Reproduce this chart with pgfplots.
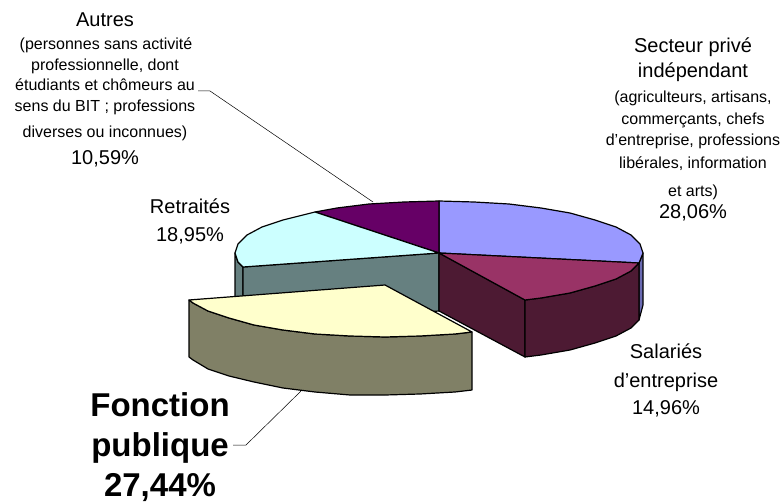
\documentclass[border=0pt]{standalone}
\usepackage{fontspec}
\setmainfont{Liberation Sans}
\usepackage{pgfplots}
\pgfplotsset{compat=1.18}

\definecolor{cbleu}{HTML}{9999FF}
\definecolor{cbleus}{HTML}{6B6BB3}
\definecolor{crouge}{HTML}{993366}
\definecolor{crouges}{HTML}{4D1A33}
\definecolor{cviolet}{HTML}{660066}
\definecolor{ccyan}{HTML}{CCFFFF}
\definecolor{ccyans}{HTML}{668080}
\definecolor{cjaune}{HTML}{FFFFCC}
\definecolor{cjaunes}{HTML}{808066}

% one line of text: x, baseline y, size, text
\newcommand{\lab}[4]{\node[anchor=base,inner sep=0pt,font=\fontsize{#3}{#3}\selectfont] at (axis cs:#1,#2) {#4};}

\begin{document}
\begin{tikzpicture}
\begin{axis}[
    hide axis,
    scale only axis,
    width=784pt,
    height=502pt,
    xmin=0, xmax=784,
    ymin=0, ymax=502,
    y dir=reverse,
    every axis plot/.append style={no markers, line join=round},
    face/.style={draw=black, line width=1.2pt},
    leader/.style={draw=black, line width=0.5pt},
]
% back sides
\addplot[face, fill=ccyans] coordinates {(243,267)(238,262)(235,253)(235,300)(238,309)(243,314)(243,325)} --cycle;
\addplot[face, fill=ccyans] coordinates {(439,253)(243,267)(243,325)(439,311)} --cycle;
\addplot[face, fill=cbleus] coordinates {(639,263)(643,253)(643,305)(639,320)} --cycle;
\addplot[face, fill=crouges] coordinates {(439,253)(525,300)(525,357)(439,311)} --cycle;
\addplot[face, fill=crouges] coordinates {(525,300)(541,298)(570,293)(595,286)(616,279)(631,271)(639,263)
    (639,320)(631,328)(616,336)(595,343)(570,350)(541,355)(525,357)} --cycle;
% top faces
\addplot[face, fill=cbleu] coordinates {(439,253)(439,201)(474,202)(509,204)(541,208)(570,213)(595,220)
    (616,227)(631,235)(640,244)(643,253)(639,263)} --cycle;
\addplot[face, fill=crouge] coordinates {(439,253)(639,263)(631,271)(616,279)(595,286)(570,293)(541,298)(525,300)} --cycle;
\addplot[face, fill=cviolet] coordinates {(439,253)(315,212)(337,208)(369,204)(404,202)(439,201)} --cycle;
\addplot[face, fill=ccyan] coordinates {(439,253)(243,267)(238,262)(235,253)(238,244)(247,235)(262,227)(283,220)(315,212)} --cycle;
% exploded slice
\addplot[face, fill=cjaunes] coordinates {(189,300)(193,303)(208,311)(229,318)(254,325)(283,330)(315,334)(350,336)
    (385,337)(420,336)(455,334)(472,332)(472,390)(455,392)(420,394)(385,395)(350,395)(315,392)(283,388)(254,382)
    (229,376)(208,369)(193,360)(189,357)} --cycle;
\addplot[face, fill=cjaune] coordinates {(385,285)(189,300)(193,303)(208,311)(229,318)(254,325)(283,330)(315,334)
    (350,336)(385,337)(420,336)(455,334)(472,332)} --cycle;
% leader lines
\addplot[leader] coordinates {(198,91)(210,91)(373,202)};
\addplot[leader] coordinates {(233,445)(246,445)(301,391)};

\lab{105}{27}{20}{Autres}
\lab{106}{50}{16}{(personnes sans activité}
\lab{105}{71}{16}{professionnelle, dont}
\lab{105}{91}{16}{étudiants et chômeurs au}
\lab{105}{112}{16}{sens du BIT ; professions}
\lab{105}{138}{16}{diverses ou inconnues)}
\lab{105}{165}{20}{10,59\%}

\lab{693}{53}{20}{Secteur privé}
\lab{693}{78}{20}{indépendant}
\lab{693}{103}{16}{(agriculteurs, artisans,}
\lab{693}{125}{16}{commerçants, chefs}
\lab{693}{146}{16}{d'entreprise, professions}
\lab{693}{169}{16}{libérales, information}
\lab{693}{197}{16}{et arts)}
\lab{693}{219}{20}{28,06\%}

\lab{190}{214}{20}{Retraités}
\lab{190}{242}{20}{18,95\%}

\lab{666}{359}{20}{Salariés}
\lab{666}{387}{20}{d'entreprise}
\lab{666}{414}{20}{14,96\%}

\lab{160}{416}{33}{\bfseries Fonction}
\lab{160}{456}{33}{\bfseries publique}
\lab{160}{496}{33}{\bfseries 27,44\%}
\end{axis}
\pgfresetboundingbox
\useasboundingbox (0,0) rectangle (784pt,502pt);
\end{tikzpicture}
\end{document}
